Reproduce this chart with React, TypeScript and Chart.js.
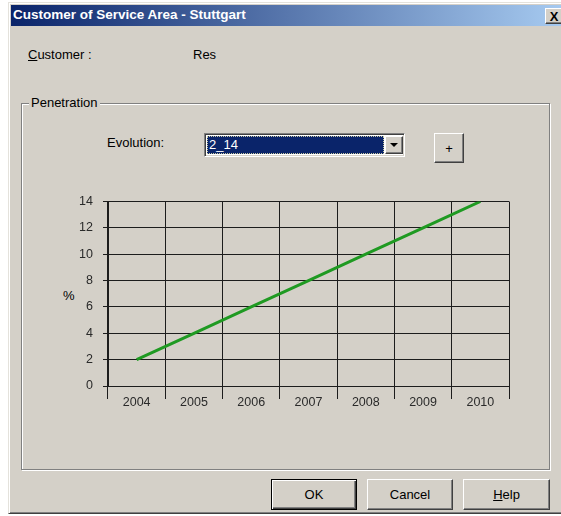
import React, { useEffect, useRef } from "react";
import { Chart, registerables } from "chart.js";

Chart.register(...registerables);

const years = ["2004", "2005", "2006", "2007", "2008", "2009", "2010"];
const penetration = [2, 4, 6, 8, 10, 12, 14];
const yMin = 0;
const yMax = 14;
const yStep = 2;

const FACE = "#d4d0c8";
const UI_FONT = "'Liberation Sans', Arial, sans-serif";

const raised: React.CSSProperties = {
  position: "absolute",
  boxSizing: "border-box",
  background: FACE,
  borderStyle: "solid",
  borderWidth: 1,
  borderColor: "#ffffff #404040 #404040 #ffffff",
  boxShadow: "inset -1px -1px 0 #808080",
  display: "flex",
  alignItems: "center",
  justifyContent: "center",
  fontFamily: UI_FONT,
  fontSize: 13,
  color: "#000",
};

function Txt(props: { x: number; y: number; children: React.ReactNode; size?: number; style?: React.CSSProperties }) {
  return (
    <div
      style={{
        position: "absolute",
        left: props.x,
        top: props.y,
        fontFamily: UI_FONT,
        fontSize: props.size ?? 13,
        lineHeight: "16px",
        color: "#000",
        whiteSpace: "nowrap",
        ...props.style,
      }}
    >
      {props.children}
    </div>
  );
}

function PenetrationChart() {
  const ref = useRef<HTMLCanvasElement | null>(null);
  useEffect(() => {
    if (!ref.current) return;
    const grid = "#1c1c1c";
    const tickFont = { family: UI_FONT, size: 12.5 };
    const chart = new Chart(ref.current, {
      type: "line",
      data: {
        labels: years,
        datasets: [
          {
            data: penetration,
            borderColor: "#1f9a22",
            borderWidth: 3,
            pointRadius: 0,
            tension: 0,
            fill: false,
          },
        ],
      },
      options: {
        animation: false,
        responsive: false,
        maintainAspectRatio: false,
        layout: { padding: { top: 5, right: 11, left: 0, bottom: 0 } },
        plugins: { legend: { display: false }, tooltip: { enabled: false } },
        scales: {
          x: {
            type: "category",
            offset: true,
            grid: { offset: true, color: grid, lineWidth: 1, tickLength: 13, drawTicks: true },
            border: { color: grid },
            ticks: { padding: -4, color: "#2a2a2a", font: tickFont, maxRotation: 0, autoSkip: false },
            afterFit: (s: any) => {
              s.height = 29;
            },
          },
          y: {
            min: yMin,
            max: yMax,
            ticks: { stepSize: yStep, padding: 10, color: "#2a2a2a", font: tickFont },
            grid: { color: grid, lineWidth: 1, tickLength: 5 },
            border: { color: grid },
            afterFit: (s: any) => {
              s.width = 58;
            },
          },
        },
      },
    } as any);
    return () => chart.destroy();
  }, []);
  return (
    <canvas
      ref={ref}
      width={470}
      height={231}
      style={{ position: "absolute", left: 50, top: 184, width: 470, height: 231 }}
    />
  );
}

export default function App() {
  return (
    <div
      style={{
        position: "fixed",
        left: 0,
        top: 0,
        width: 561,
        height: 516,
        background: "#ffffff",
        overflow: "hidden",
      }}
    >
      {/* dialog frame */}
      <div
        style={{
          position: "absolute",
          left: 8,
          top: 2,
          width: 562,
          height: 512,
          boxSizing: "border-box",
          background: FACE,
          borderStyle: "solid",
          borderWidth: 1,
          borderColor: "#e4e2dc #404040 #404040 #e4e2dc",
          boxShadow: "inset 1px 1px 0 #ffffff, inset -1px -1px 0 #808080",
        }}
      />
      {/* title bar */}
      <div
        style={{
          position: "absolute",
          left: 11,
          top: 5,
          width: 552,
          height: 21,
          background: "linear-gradient(to right, #0a246a, #a6caf0)",
        }}
      />
      <Txt x={13} y={7} size={13.5} style={{ color: "#fff", fontWeight: "bold" }}>
        Customer of Service Area - Stuttgart
      </Txt>
      <div style={{ ...raised, left: 545, top: 8, width: 18, height: 16, fontWeight: "bold", fontSize: 13 }}>X</div>

      {/* customer */}
      <Txt x={28} y={47}>
        <span style={{ textDecoration: "underline" }}>C</span>ustomer :
      </Txt>
      <Txt x={193} y={47}>Res</Txt>

      {/* group box */}
      <div
        style={{
          position: "absolute",
          left: 21,
          top: 103,
          width: 529,
          height: 367,
          boxSizing: "border-box",
          border: "1px solid #808080",
          boxShadow: "1px 1px 0 #ffffff, inset 1px 1px 0 #ffffff",
        }}
      />
      <Txt x={29} y={95} style={{ background: FACE, padding: "0 2px" }}>
        Penetration
      </Txt>

      {/* evolution combo */}
      <Txt x={107} y={135}>Evolution:</Txt>
      <div
        style={{
          position: "absolute",
          left: 204,
          top: 133,
          width: 201,
          height: 24,
          boxSizing: "border-box",
          background: "#fff",
          borderStyle: "solid",
          borderWidth: 1,
          borderColor: "#808080 #ffffff #ffffff #808080",
          boxShadow: "inset 1px 1px 0 #404040, inset -1px -1px 0 #d4d0c8",
        }}
      />
      <div
        style={{
          position: "absolute",
          left: 207,
          top: 136,
          width: 177,
          height: 18,
          boxSizing: "border-box",
          background: "#0a246a",
          outline: "1px dotted #c8c8a0",
          outlineOffset: -1,
        }}
      />
      <Txt x={209} y={137} style={{ color: "#fff" }}>
        2_14
      </Txt>
      <div style={{ ...raised, left: 385, top: 136, width: 18, height: 18 }}>
        <div
          style={{
            width: 0,
            height: 0,
            borderLeft: "4px solid transparent",
            borderRight: "4px solid transparent",
            borderTop: "4px solid #000",
          }}
        />
      </div>
      <div style={{ ...raised, left: 434, top: 133, width: 30, height: 30 }}>+</div>

      {/* chart */}
      <Txt x={63} y={288}>%</Txt>
      <PenetrationChart />

      {/* buttons */}
      <div
        style={{
          ...raised,
          left: 271,
          top: 479,
          width: 86,
          height: 31,
          border: "1px solid #000",
          boxShadow: "inset 1px 1px 0 #ffffff, inset -1px -1px 0 #404040, inset -2px -2px 0 #808080",
        }}
      >
        OK
      </div>
      <div style={{ ...raised, left: 367, top: 479, width: 86, height: 31 }}>Cancel</div>
      <div style={{ ...raised, left: 463, top: 479, width: 87, height: 31 }}>
        <span>
          <span style={{ textDecoration: "underline" }}>H</span>elp
        </span>
      </div>
    </div>
  );
}
